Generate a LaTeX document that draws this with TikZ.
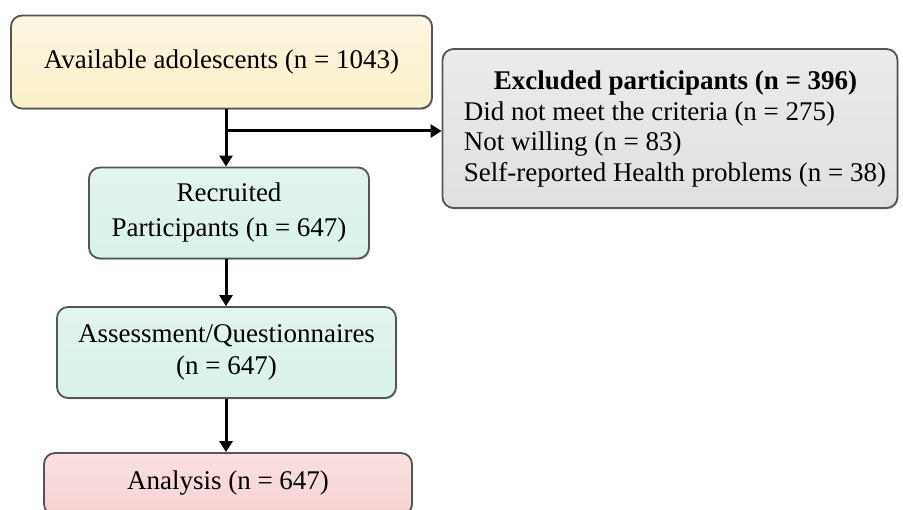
\documentclass[tikz,border=0pt]{standalone}
\usepackage{fontspec}
\setmainfont{Liberation Serif}
\usetikzlibrary{arrows.meta,shadows}
\definecolor{bordc}{HTML}{555555}
\definecolor{yel}{HTML}{FCF5E1}
\definecolor{yelb}{HTML}{FAF0C8}
\definecolor{grn}{HTML}{E2F5EE}
\definecolor{grnb}{HTML}{D8F2EA}
\definecolor{gry}{HTML}{EBEBEB}
\definecolor{gryb}{HTML}{E0E0E0}
\definecolor{pnk}{HTML}{FAE0E0}
\definecolor{pnkb}{HTML}{F6D2D2}
\tikzset{
  box/.style={draw=bordc, line width=1.8pt, rounded corners=11pt, align=center,
    inner sep=0pt, font=\fontsize{27}{35}\selectfont,
    drop shadow={shadow xshift=1pt, shadow yshift=-1.5pt, opacity=0.35}},
  yelbox/.style={box, top color=yel, bottom color=yelb},
  grnbox/.style={box, top color=grn, bottom color=grnb},
  grybox/.style={box, top color=gry, bottom color=gryb},
  pnkbox/.style={box, top color=pnk, bottom color=pnkb},
  arr/.style={line width=3pt, -{Triangle[length=11pt,width=13pt]}}
}
\begin{document}
\begin{tikzpicture}[x=1pt,y=-1pt]
\useasboundingbox (0,0) rectangle (903,510);
\node[yelbox, minimum width=421pt, minimum height=93pt] (avail) at (221.5,62) {Available adolescents (n = 1043)};
\node[grnbox, minimum width=280pt, minimum height=91pt] (recr) at (229,213) {Recruited\\Participants (n = 647)};
\node[grnbox, minimum width=339pt, minimum height=91pt, font=\fontsize{27}{32}\selectfont] (assess) at (226.5,352.5) {Assessment/Questionnaires\\(n = 647)};
\node[pnkbox, minimum width=368pt, minimum height=62pt] (anal) at (228,484) {};
\node (analt) at (228,483) {\fontsize{27}{33}\selectfont Analysis (n = 647)};
\node[grybox, minimum width=455pt, minimum height=159pt] (excl) at (670,128.5) {};
\node[anchor=north, inner sep=0pt, align=left, font=\fontsize{27}{30.5}\selectfont] (excltxt) at (675,71)
  {\hspace*{30pt}\textbf{Excluded participants (n = 396)}\\Did not meet the criteria (n = 275)\\Not willing (n = 83)\\Self-reported Health problems (n = 38)};
\coordinate (br) at (226,131);
\draw[arr] (avail.south -| br) -- (recr.north -| br);
\draw[arr] (br) -- (br -| excl.west);
\draw[arr] (recr.south -| br) -- (assess.north -| br);
\draw[arr] (assess.south -| br) -- (anal.north -| br);
\end{tikzpicture}
\end{document}
